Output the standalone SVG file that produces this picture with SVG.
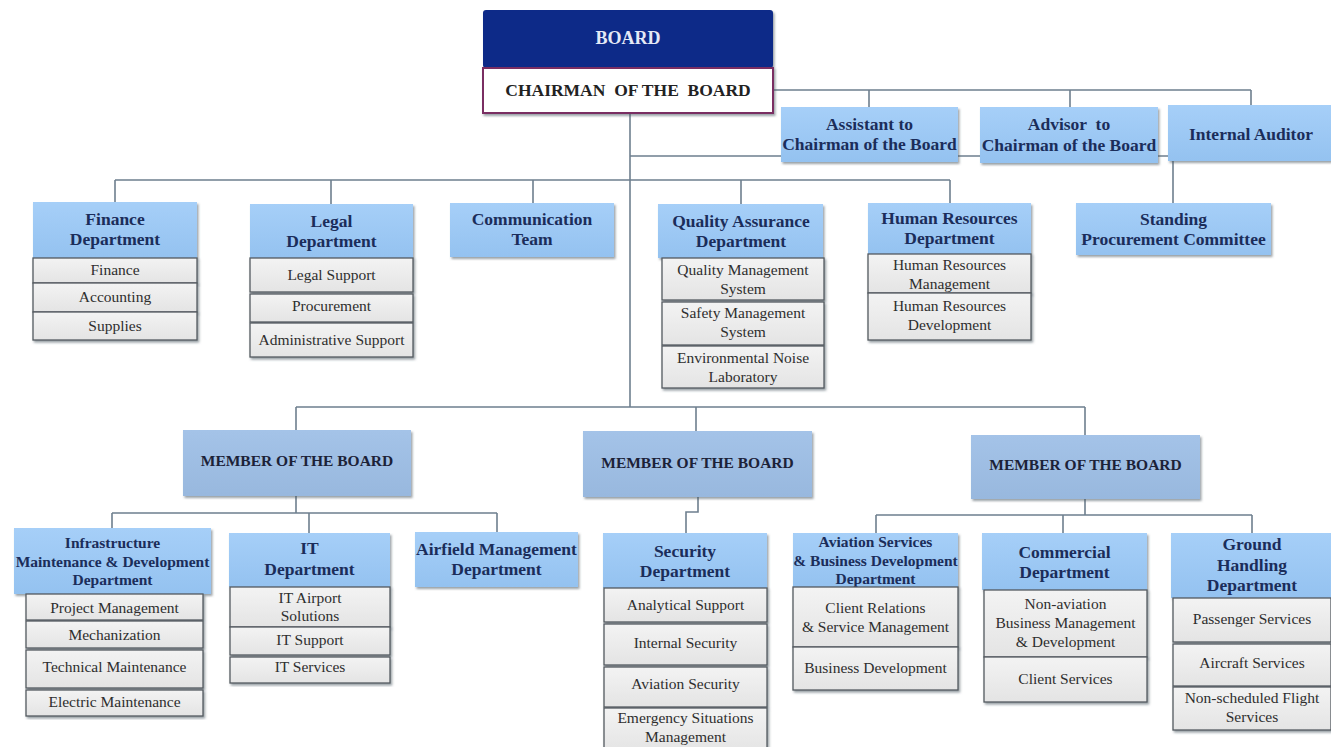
<svg xmlns="http://www.w3.org/2000/svg" width="1331" height="747" viewBox="0 0 1331 747">
<defs>
<linearGradient id="gHead" x1="0" y1="0" x2="0" y2="1"><stop offset="0" stop-color="#a6cff8"/><stop offset="1" stop-color="#94c2f0"/></linearGradient>
<linearGradient id="gSub" x1="0" y1="0" x2="0" y2="1"><stop offset="0" stop-color="#f3f3f3"/><stop offset="1" stop-color="#e4e4e4"/></linearGradient>
<linearGradient id="gMem" x1="0" y1="0" x2="0" y2="1"><stop offset="0" stop-color="#a4c3e8"/><stop offset="1" stop-color="#98b8de"/></linearGradient>
<filter id="sh" x="-5%" y="-5%" width="110%" height="120%"><feDropShadow dx="1.5" dy="2" stdDeviation="0.8" flood-color="#4a5560" flood-opacity="0.55"/></filter>
</defs>
<style>
.ln{fill:none;stroke:#6e7f8e;stroke-width:1.6}
.hd{fill:url(#gHead);filter:url(#sh)}
.sb{fill:url(#gSub);stroke:#545a60;stroke-width:1.3;filter:url(#sh)}
.mb{fill:url(#gMem);filter:url(#sh)}
text{font-family:'Liberation Serif','Times New Roman',serif}
.ht{font-weight:bold;font-size:17.5px;fill:#1b2d5a;text-anchor:middle}
.hs{font-size:15.5px}
.st{font-size:15.5px;fill:#2e2e2e;text-anchor:middle}
.mt{font-weight:bold;font-size:15.5px;fill:#1c2238;text-anchor:middle}
</style>
<rect width="1331" height="747" fill="#ffffff"/>
<g id="connectors">
<path class="ln" d="M773,90 H1251 M869,90 V107 M1070,90 V107 M1251,90 V105"/>
<path class="ln" d="M630,113 V407"/>
<path class="ln" d="M630,156 H1173 V203"/>
<path class="ln" d="M115,180 H950 M115,180 V202 M331,180 V204 M533,180 V203 M741,180 V204 M950,180 V203"/>
<path class="ln" d="M296,407 H1085 M296,407 V430 M696,407 V431 M1085,407 V435"/>
<path class="ln" d="M296,496 V513 M112,513 H497 M112,513 V528 M309,513 V533 M497,513 V532"/>
<path class="ln" d="M698,497 V512 H686 V533"/>
<path class="ln" d="M1085,499 V515 M876,515 H1252 M876,515 V533 M1063,515 V533 M1252,515 V533"/>
</g>
<g id="board">
<rect x="483" y="10" width="290" height="58" rx="3" fill="#0e2c88" filter="url(#sh)"/>
<text x="628" y="44" class="ht" style="font-size:18px;fill:#e4e9f6">BOARD</text>
</g>
<g id="chairman">
<rect x="483" y="68" width="290" height="45" fill="#ffffff" stroke="#7a2d62" stroke-width="2" filter="url(#sh)"/>
<text x="628" y="96" class="ht" style="fill:#222222;white-space:pre" xml:space="preserve">CHAIRMAN  OF THE  BOARD</text>
</g>
<g id="assistant">
<rect class="hd" x="781" y="107" width="177" height="55"/>
<text class="ht" x="869.5" y="130">Assistant to</text>
<text class="ht" x="869.5" y="150">Chairman of the Board</text>
</g>
<g id="advisor">
<rect class="hd" x="980" y="107" width="178" height="56"/>
<text class="ht" x="1069" y="130" style="white-space:pre" xml:space="preserve">Advisor  to</text>
<text class="ht" x="1069" y="151">Chairman of the Board</text>
</g>
<g id="auditor">
<rect class="hd" x="1168" y="105" width="163" height="56"/>
<text class="ht" x="1251" y="140">Internal Auditor</text>
</g>
<g id="procurement-committee">
<rect class="hd" x="1076" y="203" width="195" height="52"/>
<text class="ht" x="1173.5" y="225">Standing</text>
<text class="ht" x="1173.5" y="245">Procurement Committee</text>
</g>
<g id="finance">
<rect class="hd" x="33" y="202" width="164" height="56"/>
<text class="ht" x="115" y="225">Finance</text>
<text class="ht" x="115" y="245">Department</text>
<rect class="sb" x="33" y="258" width="164" height="25"/>
<text class="st" x="115" y="275">Finance</text>
<rect class="sb" x="33" y="283" width="164" height="29"/>
<text class="st" x="115" y="302">Accounting</text>
<rect class="sb" x="33" y="312" width="164" height="28"/>
<text class="st" x="115" y="331">Supplies</text>
</g>
<g id="legal">
<rect class="hd" x="250" y="204" width="163" height="54"/>
<text class="ht" x="331.5" y="227">Legal</text>
<text class="ht" x="331.5" y="247">Department</text>
<rect class="sb" x="250" y="258" width="163" height="34"/>
<text class="st" x="331.5" y="280">Legal Support</text>
<rect class="sb" x="250" y="294" width="163" height="28"/>
<text class="st" x="331.5" y="311">Procurement</text>
<rect class="sb" x="250" y="323" width="163" height="34"/>
<text class="st" x="331.5" y="345">Administrative Support</text>
</g>
<g id="communication">
<rect class="hd" x="450" y="203" width="164" height="54"/>
<text class="ht" x="532" y="225">Communication</text>
<text class="ht" x="532" y="245">Team</text>
</g>
<g id="quality">
<rect class="hd" x="658" y="204" width="165" height="54"/>
<text class="ht" x="741" y="227">Quality Assurance</text>
<text class="ht" x="741" y="247">Department</text>
<rect class="sb" x="662" y="258" width="162" height="42"/>
<text class="st" x="743" y="275">Quality Management</text>
<text class="st" x="743" y="294">System</text>
<rect class="sb" x="662" y="302" width="162" height="43"/>
<text class="st" x="743" y="318">Safety Management</text>
<text class="st" x="743" y="337">System</text>
<rect class="sb" x="662" y="346" width="162" height="42"/>
<text class="st" x="743" y="363">Environmental Noise</text>
<text class="st" x="743" y="382">Laboratory</text>
</g>
<g id="hr">
<rect class="hd" x="868" y="203" width="163" height="51"/>
<text class="ht" x="949.5" y="224">Human Resources</text>
<text class="ht" x="949.5" y="244">Department</text>
<rect class="sb" x="868" y="254" width="163" height="39"/>
<text class="st" x="949.5" y="270">Human Resources</text>
<text class="st" x="949.5" y="289">Management</text>
<rect class="sb" x="868" y="293" width="163" height="47"/>
<text class="st" x="949.5" y="311">Human Resources</text>
<text class="st" x="949.5" y="330">Development</text>
</g>
<g id="member-left">
<rect class="mb" x="183" y="430" width="228" height="66"/>
<text class="mt" x="297" y="466">MEMBER OF THE BOARD</text>
</g>
<g id="member-center">
<rect class="mb" x="583" y="431" width="229" height="66"/>
<text class="mt" x="697.5" y="468">MEMBER OF THE BOARD</text>
</g>
<g id="member-right">
<rect class="mb" x="971" y="435" width="229" height="64"/>
<text class="mt" x="1085.5" y="470">MEMBER OF THE BOARD</text>
</g>
<g id="infrastructure">
<rect class="hd" x="14" y="528" width="197" height="66"/>
<text class="ht hs" x="112.5" y="548">Infrastructure</text>
<text class="ht hs" x="112.5" y="567">Maintenance &amp; Development</text>
<text class="ht hs" x="112.5" y="585">Department</text>
<rect class="sb" x="26" y="594" width="177" height="26"/>
<text class="st" x="114.5" y="613">Project Management</text>
<rect class="sb" x="26" y="621" width="177" height="27"/>
<text class="st" x="114.5" y="640">Mechanization</text>
<rect class="sb" x="26" y="650" width="177" height="38"/>
<text class="st" x="114.5" y="672">Technical Maintenance</text>
<rect class="sb" x="26" y="690" width="177" height="26"/>
<text class="st" x="114.5" y="707">Electric Maintenance</text>
</g>
<g id="it">
<rect class="hd" x="229" y="533" width="161" height="54"/>
<text class="ht" x="309.5" y="554">IT</text>
<text class="ht" x="309.5" y="575">Department</text>
<rect class="sb" x="230" y="587" width="160" height="40"/>
<text class="st" x="310" y="603">IT Airport</text>
<text class="st" x="310" y="621">Solutions</text>
<rect class="sb" x="230" y="627" width="160" height="28"/>
<text class="st" x="310" y="645">IT Support</text>
<rect class="sb" x="230" y="657" width="160" height="26"/>
<text class="st" x="310" y="672">IT Services</text>
</g>
<g id="airfield">
<rect class="hd" x="415" y="532" width="163" height="55"/>
<text class="ht" x="496.5" y="555">Airfield Management</text>
<text class="ht" x="496.5" y="575">Department</text>
</g>
<g id="security">
<rect class="hd" x="603" y="533" width="164" height="55"/>
<text class="ht" x="685" y="557">Security</text>
<text class="ht" x="685" y="577">Department</text>
<rect class="sb" x="604" y="588" width="163" height="34"/>
<text class="st" x="685.5" y="610">Analytical Support</text>
<rect class="sb" x="604" y="624" width="163" height="41"/>
<text class="st" x="685.5" y="648">Internal Security</text>
<rect class="sb" x="604" y="667" width="163" height="40"/>
<text class="st" x="685.5" y="689">Aviation Security</text>
<rect class="sb" x="604" y="708" width="163" height="44"/>
<text class="st" x="685.5" y="723">Emergency Situations</text>
<text class="st" x="685.5" y="742">Management</text>
</g>
<g id="aviation">
<rect class="hd" x="793" y="533" width="165" height="54"/>
<text class="ht hs" x="875.5" y="547">Aviation Services</text>
<text class="ht hs" x="875.5" y="566">&amp; Business Development</text>
<text class="ht hs" x="875.5" y="584">Department</text>
<rect class="sb" x="793" y="587" width="165" height="60"/>
<text class="st" x="875.5" y="613">Client Relations</text>
<text class="st" x="875.5" y="632">&amp; Service Management</text>
<rect class="sb" x="793" y="647" width="165" height="43"/>
<text class="st" x="875.5" y="673">Business Development</text>
</g>
<g id="commercial">
<rect class="hd" x="982" y="533" width="165" height="57"/>
<text class="ht" x="1064.5" y="558">Commercial</text>
<text class="ht" x="1064.5" y="578">Department</text>
<rect class="sb" x="984" y="590" width="163" height="67"/>
<text class="st" x="1065.5" y="609">Non-aviation</text>
<text class="st" x="1065.5" y="628">Business Management</text>
<text class="st" x="1065.5" y="647">&amp; Development</text>
<rect class="sb" x="984" y="657" width="163" height="45"/>
<text class="st" x="1065.5" y="684">Client Services</text>
</g>
<g id="ground">
<rect class="hd" x="1171" y="533" width="160" height="65"/>
<text class="ht" x="1252" y="550">Ground</text>
<text class="ht" x="1252" y="571">Handling</text>
<text class="ht" x="1252" y="591">Department</text>
<rect class="sb" x="1173" y="598" width="158" height="44"/>
<text class="st" x="1252" y="624">Passenger Services</text>
<rect class="sb" x="1173" y="644" width="158" height="42"/>
<text class="st" x="1252" y="668">Aircraft Services</text>
<rect class="sb" x="1173" y="687" width="158" height="43"/>
<text class="st" x="1252" y="703">Non-scheduled Flight</text>
<text class="st" x="1252" y="722">Services</text>
</g>
</svg>
